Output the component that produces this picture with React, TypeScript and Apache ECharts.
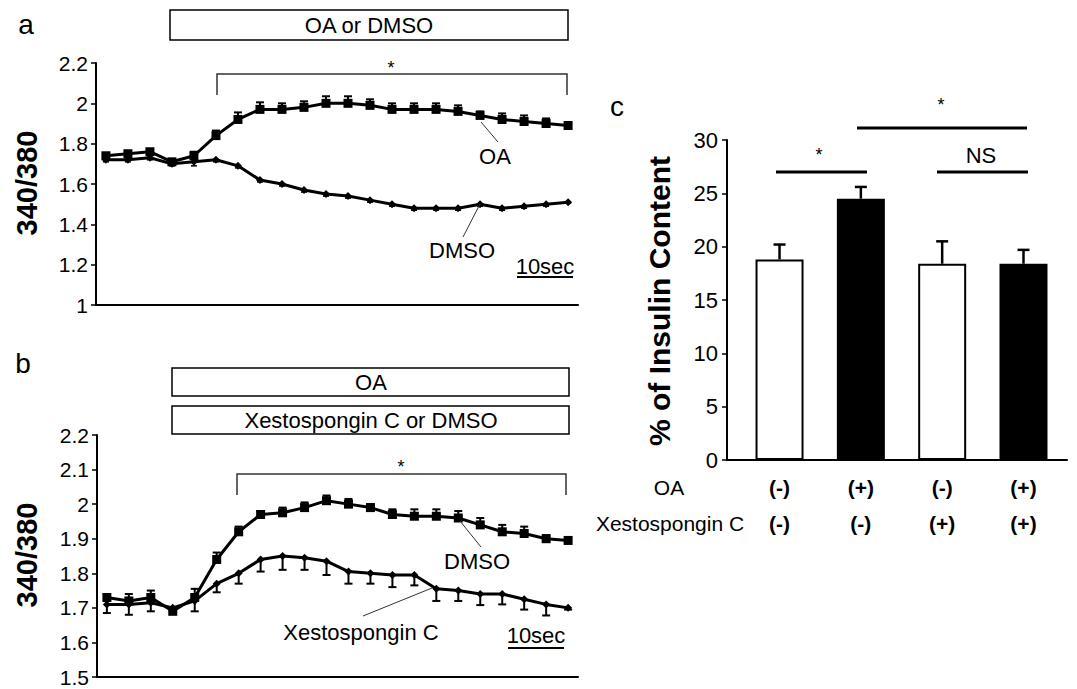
import React, { useEffect, useRef } from "react";
import * as echarts from "echarts";

// ---- Data ----
const timePoints = [0, 1, 2, 3, 4, 5, 6, 7, 8, 9, 10, 11, 12, 13, 14, 15, 16, 17, 18, 19, 20, 21];

// Panel a
const oaA = [1.74, 1.75, 1.76, 1.71, 1.74, 1.84, 1.92, 1.97, 1.97, 1.98, 2.0, 2.0, 1.99, 1.97, 1.97, 1.97, 1.96, 1.94, 1.92, 1.91, 1.9, 1.89];
const oaAErr = [0.01, 0.01, 0.01, 0.01, 0.02, 0.025, 0.035, 0.035, 0.03, 0.03, 0.035, 0.035, 0.03, 0.03, 0.03, 0.03, 0.03, 0.02, 0.03, 0.03, 0.025, 0.01];
const dmsoA = [1.72, 1.72, 1.73, 1.7, 1.71, 1.72, 1.69, 1.62, 1.6, 1.57, 1.55, 1.54, 1.52, 1.5, 1.48, 1.48, 1.48, 1.5, 1.48, 1.49, 1.5, 1.51];
const dmsoAErr = [0.01, 0.01, 0.01, 0.01, 0.02, 0.01, 0.01, 0.01, 0.01, 0.01, 0.01, 0.01, 0.01, 0.01, 0.01, 0.01, 0.01, 0.01, 0.01, 0.01, 0.01, 0.005];

// Panel b
const dmsoB = [1.73, 1.72, 1.73, 1.69, 1.73, 1.84, 1.92, 1.97, 1.975, 1.99, 2.01, 2.0, 1.99, 1.97, 1.965, 1.965, 1.96, 1.94, 1.92, 1.915, 1.9, 1.895];
const dmsoBErr = [0.01, 0.02, 0.02, 0.01, 0.025, 0.02, 0.015, 0.01, 0.015, 0.015, 0.015, 0.015, 0.01, 0.015, 0.02, 0.02, 0.02, 0.02, 0.02, 0.02, 0.01, 0.01];
const xestoB = [1.71, 1.71, 1.715, 1.7, 1.72, 1.77, 1.8, 1.84, 1.85, 1.845, 1.835, 1.805, 1.8, 1.795, 1.795, 1.755, 1.75, 1.74, 1.74, 1.725, 1.71, 1.7];
const xestoBErr = [0.025, 0.03, 0.025, 0.01, 0.03, 0.025, 0.03, 0.035, 0.04, 0.035, 0.04, 0.035, 0.03, 0.035, 0.03, 0.035, 0.03, 0.032, 0.03, 0.03, 0.032, 0.005];

// Panel c
const barPositions = [0, 1, 2, 3];
const oaSigns = ["(-)", "(+)", "(-)", "(+)"];
const xestoSigns = ["(-)", "(-)", "(+)", "(+)"];
const insulin = [18.8, 24.5, 18.4, 18.4];
const insulinErr = [1.4, 1.1, 2.1, 1.3];
const barFills = ["#ffffff", "#000000", "#ffffff", "#000000"];

const FONT = "'Liberation Sans', Arial, sans-serif";

function txt(x: number, y: number, text: string, size: number, weight = "normal", rotation = 0) {
  return {
    type: "text",
    x,
    y,
    rotation,
    z: 10,
    style: { text, fontSize: size, fontWeight: weight, fontFamily: FONT, fill: "#000", align: "center", verticalAlign: "middle" },
  };
}
function ln(x1: number, y1: number, x2: number, y2: number, w = 1, color = "#333") {
  return { type: "line", z: 10, shape: { x1, y1, x2, y2 }, style: { stroke: color, lineWidth: w } };
}
function poly(points: number[][], w = 1.5, color = "#333") {
  return { type: "polyline", z: 10, shape: { points }, style: { stroke: color, lineWidth: w, fill: null } };
}
function box(x: number, y: number, w: number, h: number) {
  return { type: "rect", z: 9, shape: { x, y, width: w, height: h }, style: { fill: "#fff", stroke: "#000", lineWidth: 1.5 } };
}

function errSeries(vals: number[], errs: number[], xs: number[], dir: number, axisIdx: number, cap: number, lw: number) {
  return {
    type: "custom",
    xAxisIndex: axisIdx,
    yAxisIndex: axisIdx,
    z: 3,
    silent: true,
    data: xs.map((x, i) => [x, vals[i], errs[i]]),
    renderItem: (params: any, api: any) => {
      const x = api.value(0);
      const y = api.value(1);
      const e = api.value(2);
      const p0 = api.coord([x, y]);
      const p1 = api.coord([x, y + dir * e]);
      return {
        type: "group",
        children: [
          { type: "line", shape: { x1: p0[0], y1: p0[1], x2: p1[0], y2: p1[1] }, style: { stroke: "#000", lineWidth: lw } },
          { type: "line", shape: { x1: p1[0] - cap, y1: p1[1], x2: p1[0] + cap, y2: p1[1] }, style: { stroke: "#000", lineWidth: lw } },
        ],
      };
    },
  };
}

function lineSeries(vals: number[], axisIdx: number, symbol: string, size: number) {
  return {
    type: "line",
    xAxisIndex: axisIdx,
    yAxisIndex: axisIdx,
    z: 4,
    data: timePoints.map((t, i) => [t, vals[i]]),
    symbol,
    symbolSize: size,
    showAllSymbol: true,
    lineStyle: { color: "#000", width: 3 },
    itemStyle: { color: "#000" },
  };
}

const axisLineStyle = { show: true, onZero: false, lineStyle: { color: "#000", width: 2 } };
const yTick = { show: true, length: 5, lineStyle: { width: 1.5, color: "#000" } };
const yLabel = { color: "#000", fontSize: 21, fontFamily: FONT, margin: 8 };

export default function App() {
  const ref = useRef<HTMLDivElement>(null);
  useEffect(() => {
    document.body.style.margin = "0";
    const chart = echarts.init(ref.current!, null, { renderer: "svg" });
    const option: any = {
      animation: false,
      backgroundColor: "#fff",
      grid: [
        { left: 96, top: 63, width: 482, height: 242 },
        { left: 97, top: 435, width: 481, height: 242 },
        { left: 727, top: 140, width: 340, height: 320 },
      ],
      xAxis: [
        { gridIndex: 0, type: "value", min: -0.45, max: 21.45, axisLine: axisLineStyle, axisTick: { show: false }, axisLabel: { show: false }, splitLine: { show: false } },
        { gridIndex: 1, type: "value", min: -0.45, max: 21.45, axisLine: axisLineStyle, axisTick: { show: false }, axisLabel: { show: false }, splitLine: { show: false } },
        {
          gridIndex: 2,
          type: "value",
          min: -0.646,
          max: 3.535,
          axisLine: axisLineStyle,
          axisTick: { show: false },
          splitLine: { show: false },
          axisLabel: {
            customValues: barPositions,
            margin: 9,
            formatter: (v: number) => {
              const i = Math.round(v);
              return `{b|${oaSigns[i]}}\n{b|${xestoSigns[i]}}`;
            },
            rich: { b: { fontSize: 21, fontWeight: "bold", fontFamily: FONT, color: "#000", lineHeight: 36 } },
          },
        },
      ],
      yAxis: [
        { gridIndex: 0, type: "value", min: 1, max: 2.2, interval: 0.2, axisLine: axisLineStyle, axisTick: yTick, axisLabel: yLabel, splitLine: { show: false } },
        { gridIndex: 1, type: "value", min: 1.5, max: 2.2, interval: 0.1, axisLine: axisLineStyle, axisTick: yTick, axisLabel: yLabel, splitLine: { show: false } },
        { gridIndex: 2, type: "value", min: 0, max: 30, interval: 5, axisLine: axisLineStyle, axisTick: yTick, axisLabel: { ...yLabel, fontSize: 22, margin: 9 }, splitLine: { show: false } },
      ],
      series: [
        errSeries(oaA, oaAErr, timePoints, 1, 0, 4, 2),
        errSeries(dmsoA, dmsoAErr, timePoints, -1, 0, 3, 1.5),
        lineSeries(dmsoA, 0, "diamond", 8),
        lineSeries(oaA, 0, "rect", 9),
        errSeries(dmsoB, dmsoBErr, timePoints, 1, 1, 4, 2),
        errSeries(xestoB, xestoBErr, timePoints, -1, 1, 4, 2),
        lineSeries(xestoB, 1, "diamond", 8),
        lineSeries(dmsoB, 1, "rect", 9),
        {
          type: "bar",
          xAxisIndex: 2,
          yAxisIndex: 2,
          barWidth: 48,
          z: 3,
          data: barPositions.map((p, i) => ({
            value: [p, insulin[i]],
            itemStyle: { color: barFills[i], borderColor: "#000", borderWidth: 2 },
          })),
        },
        errSeries(insulin, insulinErr, barPositions, 1, 2, 6, 2.5),
      ],
      graphic: [
        // panel a
        txt(26, 24, "a", 28),
        box(170, 10, 398, 30),
        txt(369, 25, "OA or DMSO", 22),
        poly([[217, 95], [217, 74], [567, 74], [567, 95]]),
        txt(391, 68, "*", 18),
        ln(481, 122, 498, 142),
        txt(495, 156, "OA", 22),
        ln(480, 204, 463, 237),
        txt(462, 250, "DMSO", 22),
        txt(545, 266, "10sec", 22),
        ln(517, 277, 573, 277, 2, "#000"),
        txt(27, 183, "340/380", 29, "bold", Math.PI / 2),
        // panel b
        txt(23, 363, "b", 28),
        box(172, 368, 397, 28),
        txt(371, 382, "OA", 22),
        box(172, 406, 397, 28),
        txt(371, 420, "Xestospongin C or DMSO", 22),
        poly([[237, 495], [237, 474], [566, 474], [566, 495]]),
        txt(401, 467, "*", 18),
        ln(460, 521, 481, 547),
        txt(477, 561, "DMSO", 22),
        ln(432, 588, 363, 616),
        txt(361, 632, "Xestospongin C", 22),
        txt(536, 635, "10sec", 22),
        ln(508, 648, 564, 648, 2, "#000"),
        txt(27, 555, "340/380", 29, "bold", Math.PI / 2),
        // panel c
        txt(617, 106, "c", 28),
        txt(659, 301, "% of Insulin Content", 30, "bold", Math.PI / 2),
        ln(776, 172, 867, 172, 3, "#000"),
        ln(937, 172, 1028, 172, 3, "#000"),
        ln(857, 128, 1027, 128, 3, "#000"),
        txt(819, 155, "*", 18),
        txt(981, 155, "NS", 22),
        txt(941, 105, "*", 18),
        txt(669, 487, "OA", 21),
        txt(670, 523, "Xestospongin C", 21),
      ],
    };
    chart.setOption(option);
    return () => chart.dispose();
  }, []);
  return <div ref={ref} style={{ width: 1077, height: 689 }} />;
}
